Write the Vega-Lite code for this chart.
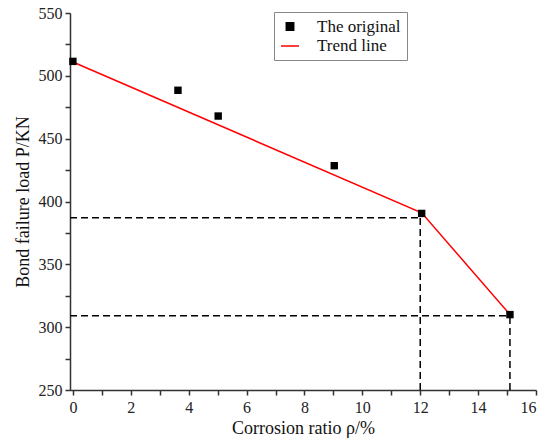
{
  "$schema": "https://vega.github.io/schema/vega-lite/v6.json",
  "width": 466,
  "height": 377,
  "autosize": {"type": "none"},
  "padding": {"left": 70, "top": 13, "right": 14, "bottom": 58},
  "background": "white",
  "datasets": {
    "points": [
      {"ratio": 0, "load": 511.5, "series": "The original"},
      {"ratio": 3.63, "load": 488.5, "series": "The original"},
      {"ratio": 5.02, "load": 468, "series": "The original"},
      {"ratio": 9.03, "load": 428.5, "series": "The original"},
      {"ratio": 12.05, "load": 390.5, "series": "The original"},
      {"ratio": 15.1, "load": 310, "series": "The original"}
    ],
    "trend": [
      {"ratio": 0, "load": 511, "series": "Trend line"},
      {"ratio": 12.05, "load": 391, "series": "Trend line"},
      {"ratio": 15.1, "load": 310, "series": "Trend line"}
    ],
    "guides": [
      {"x": -0.1, "x2": 12, "y": 387, "y2": 387},
      {"x": -0.1, "x2": 15.1, "y": 309, "y2": 309},
      {"x": 12, "x2": 12, "y": 250, "y2": 387},
      {"x": 15.1, "x2": 15.1, "y": 250, "y2": 309}
    ]
  },
  "layer": [
    {
      "data": {"name": "guides"},
      "mark": {"type": "rule", "color": "black", "strokeWidth": 1.5, "strokeDash": [7, 4]},
      "encoding": {
        "x": {
          "field": "x",
          "type": "quantitative",
          "scale": {"domain": [-0.1, 16], "nice": false, "zero": false},
          "axis": {
            "values": [0, 1, 2, 3, 4, 5, 6, 7, 8, 9, 10, 11, 12, 13, 14, 15, 16],
            "labelExpr": "datum.value % 2 === 0 ? datum.label : ''",
            "tickSize": 5,
            "labelFont": "Liberation Serif",
            "labelFontSize": 16,
            "labelColor": "#222222",
            "title": "Corrosion ratio ρ/%",
            "labelPadding": 4,
            "titlePadding": 4,
            "encode": {
              "ticks": {"update": {"y2": {"signal": "datum.value % 2 === 1 ? 3 : 5"}}}
            }
          }
        },
        "x2": {"field": "x2"},
        "y": {
          "field": "y",
          "type": "quantitative",
          "scale": {"domain": [250, 550], "nice": false, "zero": false},
          "axis": {
            "values": [250, 275, 300, 325, 350, 375, 400, 425, 450, 475, 500, 525, 550],
            "labelExpr": "datum.value % 50 === 0 ? datum.label : ''",
            "tickSize": 5,
            "labelFont": "Liberation Serif",
            "labelFontSize": 16,
            "labelColor": "#222222",
            "title": "Bond failure load P/KN",
            "labelPadding": 3,
            "titlePadding": 6,
            "encode": {
              "ticks": {"update": {"x2": {"signal": "datum.value % 50 !== 0 ? -3 : -5"}}}
            }
          }
        },
        "y2": {"field": "y2"}
      }
    },
    {
      "data": {"name": "trend"},
      "mark": {"type": "line", "strokeWidth": 1.5},
      "encoding": {
        "x": {"field": "ratio", "type": "quantitative", "axis": null},
        "y": {"field": "load", "type": "quantitative", "axis": null},
        "color": {"field": "series", "type": "nominal"}
      }
    },
    {
      "data": {"name": "points"},
      "mark": {"type": "point", "filled": true, "opacity": 1},
      "encoding": {
        "x": {"field": "ratio", "type": "quantitative", "axis": null},
        "y": {"field": "load", "type": "quantitative", "axis": null},
        "color": {
          "field": "series",
          "type": "nominal",
          "scale": {"domain": ["The original", "Trend line"], "range": ["black", "red"]},
          "legend": {
            "orient": "none",
            "legendX": 204,
            "legendY": -1,
            "title": null,
            "strokeColor": "#888888",
            "padding": 6,
            "labelFontSize": 17,
            "labelOffset": 17,
            "rowPadding": 1,
            "symbolStrokeWidth": 1.5,
            "encode": {
              "symbols": {
                "update": {
                  "fill": {"scale": "color", "field": "value"},
                  "stroke": {"scale": "color", "field": "value"}
                }
              }
            }
          }
        },
        "shape": {
          "field": "series",
          "type": "nominal",
          "scale": {"domain": ["The original", "Trend line"], "range": ["square", "stroke"]}
        },
        "size": {
          "field": "series",
          "type": "nominal",
          "scale": {"domain": ["The original", "Trend line"], "range": [55, 324]}
        }
      }
    }
  ],
  "resolve": {"axis": {"x": "independent", "y": "independent"}},
  "config": {
    "font": "Liberation Serif",
    "view": {"stroke": null},
    "axis": {
      "grid": false,
      "domainColor": "#333333",
      "domainWidth": 1.5,
      "tickColor": "#333333",
      "tickWidth": 1.5,
      "labelFont": "Liberation Serif",
      "labelFontSize": 16,
      "titleFont": "Liberation Serif",
      "titleFontSize": 18,
      "titleFontWeight": "normal",
      "titleColor": "#111111"
    },
    "legend": {"labelFont": "Liberation Serif", "labelColor": "#111111"}
  }
}
